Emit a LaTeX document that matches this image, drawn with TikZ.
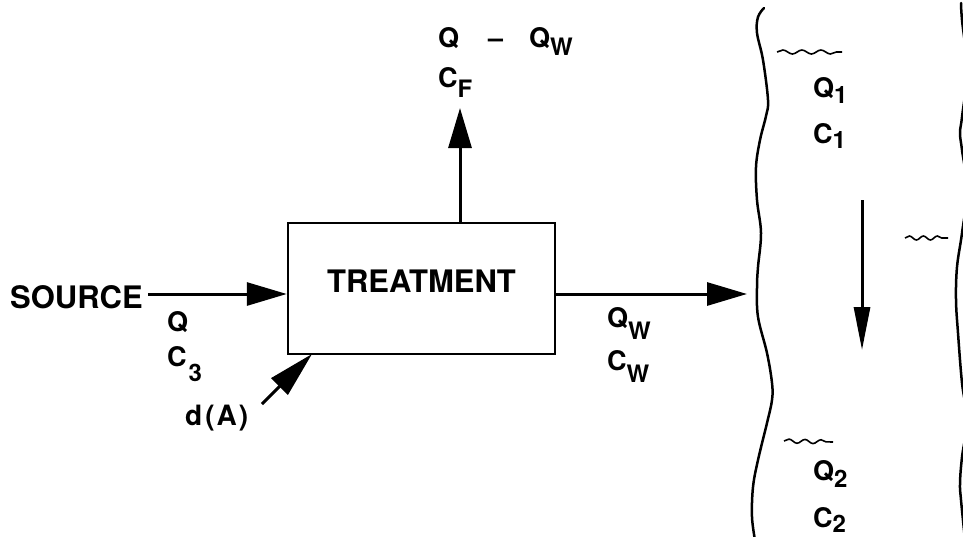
\documentclass[tikz,border=0pt]{standalone}
\usepackage{fontspec}
\setmainfont{TeX Gyre Heros}
\usetikzlibrary{arrows.meta,decorations.pathmorphing}
\newcommand\lsub[2][9pt]{\raisebox{-#1}{\fontsize{24}{24}\selectfont #2}}
\begin{document}
\begin{tikzpicture}[x=1pt,y=-1pt,
  lab/.style={anchor=base west, inner sep=0pt, font=\fontsize{27}{27}\selectfont\bfseries},
  big/.style={anchor=base west, inner sep=0pt, font=\fontsize{31}{31}\selectfont\bfseries},
  arr/.style={line width=3pt, -{Triangle[length=40pt,width=23pt]}},
  bank/.style={line width=2.5pt, line join=round, line cap=round},
  ripple/.style={line width=1.6pt, decorate, decoration={snake, amplitude=2pt, segment length=19pt}},
  boxstyle/.style={draw, line width=2.5pt, minimum width=267pt, minimum height=131pt, inner sep=0pt,
    font=\fontsize{31}{31}\selectfont\bfseries, text depth=15pt}]
\useasboundingbox (0,0) rectangle (963,536);
\clip (0,0) rectangle (963,536);
\fill[white] (0,0) rectangle (963,536);

% treatment box
\node[boxstyle] (tr) at (421.5,288.5) {TREATMENT};

% source
\node[big] (src) at (10,308) {SOURCE};
\coordinate (s0) at (148,294);
\draw[arr] (s0) -- (s0 -| tr.west);

% labels of inflow
\node[lab] (lq) at (167,331) {Q};
\node[lab] (lc3) at (167,366) {C\lsub[15pt]{\hspace{2pt}3}};
\node[lab, font=\fontsize{28}{28}\selectfont\bfseries] (lda) at (185,425) {d\hspace{3pt}(\hspace{2pt}A\hspace{2pt})};

% d(A) arrow
\coordinate (da0) at (262,404);
\coordinate (da1) at (312,354);
\draw[line width=3pt, -{Triangle[length=46pt,width=23pt]}] (da0) -- (da1);

% upward arrow
\coordinate (up0) at (460,108);
\draw[arr] (up0 |- tr.north) -- (up0);
\node[lab] (lqf) at (438,47) {Q\hspace{29pt}–\hspace{26pt}Q\lsub[8pt]{W}};
\node[lab] (lcf) at (438,87) {C\lsub[10pt]{F}};

% outflow to river
\coordinate (bk) at (747,294);
\draw[arr] (bk -| tr.east) -- (bk);
\node[lab] (lqw) at (607,327) {Q\lsub[12pt]{W}};
\node[lab] (lcw) at (607,370) {C\lsub[12pt]{W}};

% river banks
\draw[bank] plot[smooth, tension=0.6] coordinates {(764,8) (758,17) (757,33) (763,60) (768,100) (766,116) (760,140) (756,167) (757,200) (761,233) (758,267) (757,287) (758,317) (767,353) (772,383) (772,400) (767,423) (758,460) (753,487) (752,517) (755,540)};
\draw[bank] plot[smooth, tension=0.6] coordinates {(961,3) (962,20) (967,70) (962,117) (960,133) (962,150) (967,190) (962,233) (957,267) (956,300) (958,333) (962,383) (967,420) (962,457) (960,483) (961,500) (965,540)};

% water surface marks
\coordinate (w1a) at (777,52); \coordinate (w1b) at (842,52);
\draw[ripple] (w1a) -- (w1b);
\coordinate (w2a) at (905,238); \coordinate (w2b) at (948,238);
\draw[ripple, decoration={segment length=14pt}] (w2a) -- (w2b);
\coordinate (w3a) at (784,441); \coordinate (w3b) at (833,442);
\draw[ripple, decoration={segment length=16pt}] (w3a) -- (w3b);

% river flow arrow
\coordinate (f0) at (862,200);
\coordinate (f1) at (862,350);
\draw[line width=3pt, -{Triangle[length=43pt,width=16pt]}] (f0) -- (f1);

% river labels
\node[lab] (lq1) at (813,97) {Q\lsub[6pt]{1}};
\node[lab] (lc1) at (813,143) {C\lsub[5pt]{1}};
\node[lab] (lq2) at (813,480) {Q\lsub[7pt]{2}};
\node[lab] (lc2) at (813,527) {C\lsub[5pt]{2}};
\end{tikzpicture}
\end{document}
